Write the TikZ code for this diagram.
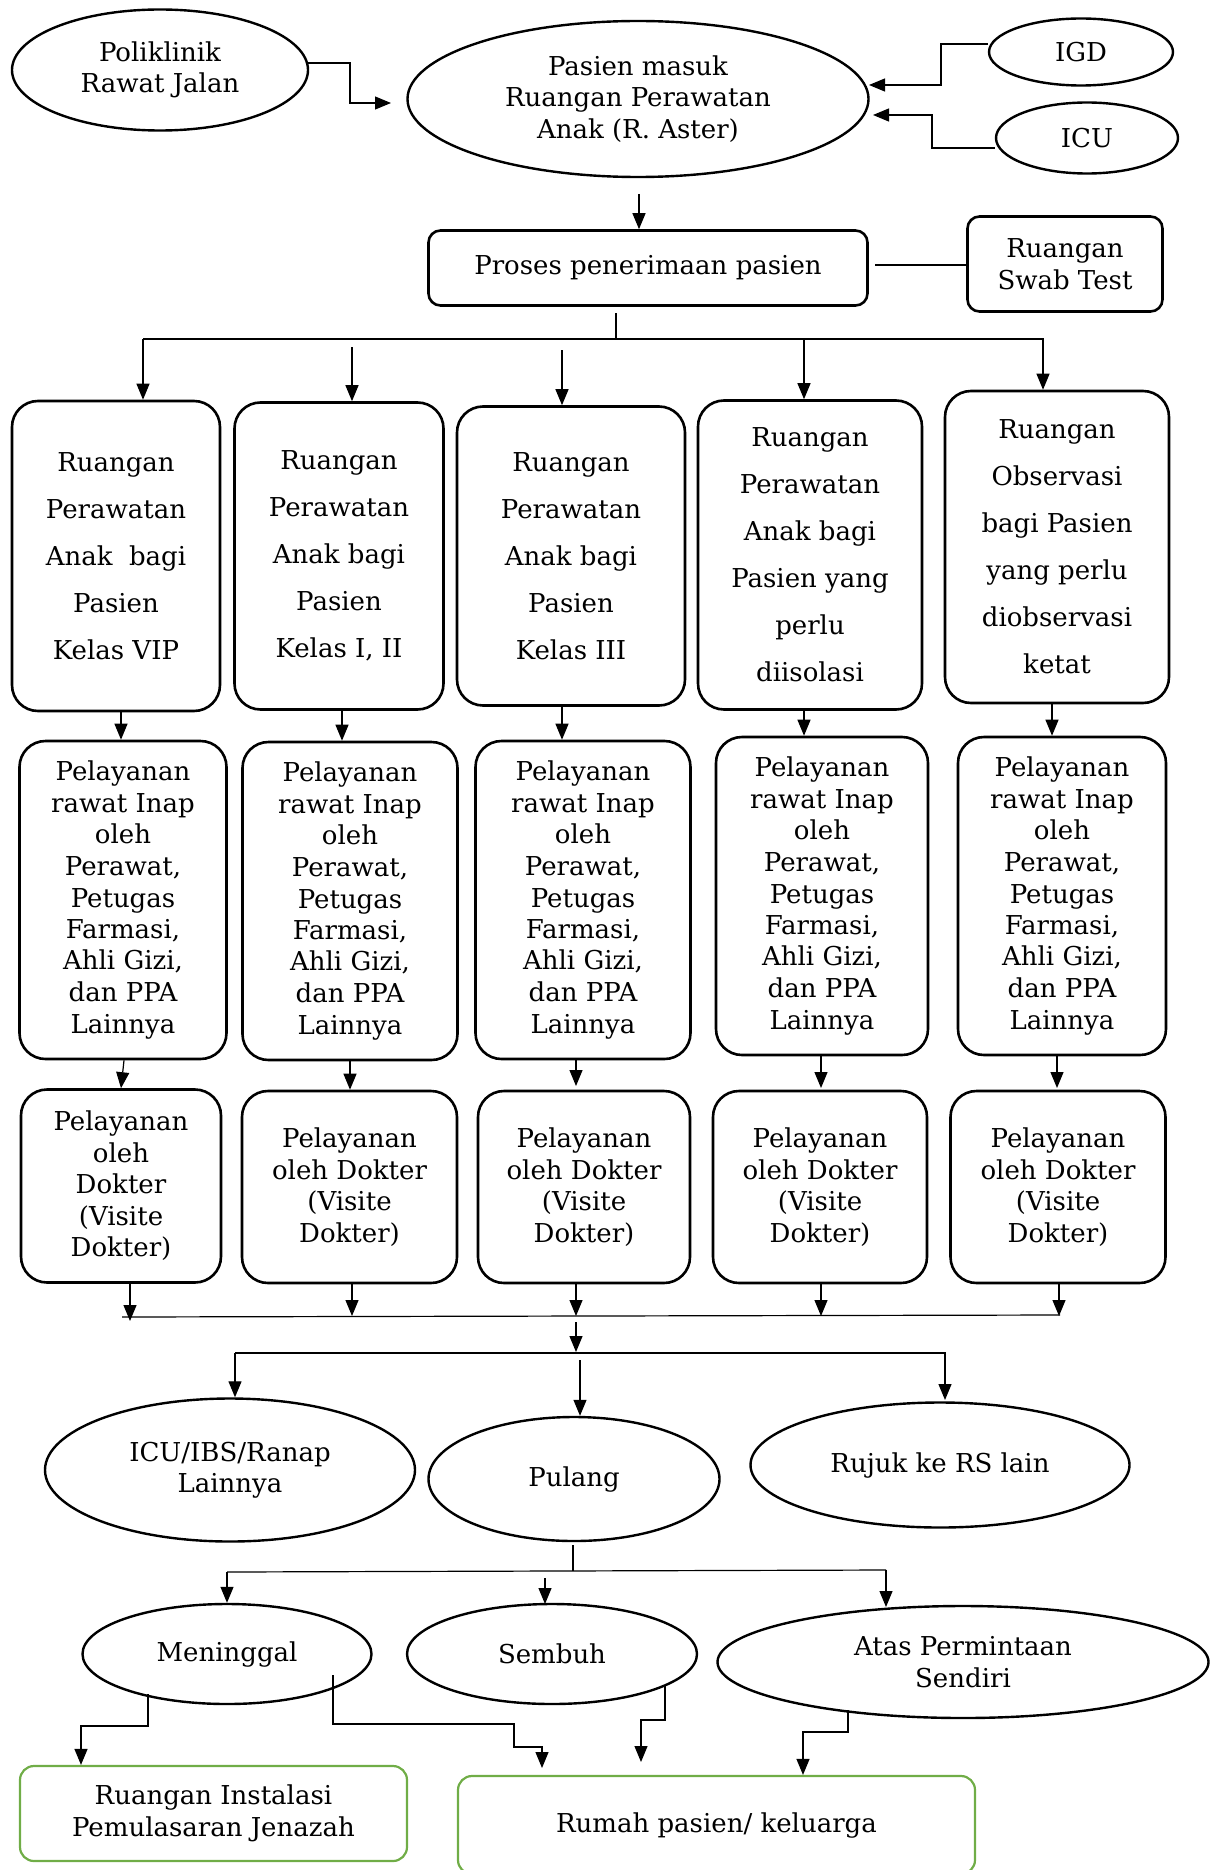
\documentclass[tikz,border=0pt]{standalone}
\usepackage{fontspec}
\setmainfont{DejaVu Serif}
\usetikzlibrary{shapes.geometric,arrows.meta}
\definecolor{wgreen}{HTML}{70AD47}
\begin{document}
\begin{tikzpicture}[x=1pt,y=-1pt,
  every node/.style={font=\fontsize{26}{31.5}\selectfont},
  ell/.style={draw, ellipse, line width=2.4pt, inner sep=0pt, align=center},
  rbox/.style={draw, rounded corners=26pt, line width=2.6pt, inner sep=0pt, align=center},
  sbox/.style={draw, rounded corners=12pt, line width=2.6pt, inner sep=0pt, align=center},
  gbox/.style={draw=wgreen, rounded corners=14pt, line width=2.2pt, inner sep=0pt, align=center},
  wide/.style={font=\fontsize{26}{47}\selectfont},
  arr/.style={-{Triangle[length=16pt,width=13pt]}, line width=1.2pt},
  ln/.style={line width=1.2pt}]
\useasboundingbox (0,0) rectangle (1217,1870);
\clip (0,0) rectangle (1217,1870);

% top
\node[ell, minimum width=296, minimum height=121] (poli) at (160,70) {Poliklinik\\Rawat Jalan};
\node[ell, minimum width=461, minimum height=156] (masuk) at (638,99) {Pasien masuk\\Ruangan Perawatan\\Anak (R. Aster)};
\node[ell, minimum width=184, minimum height=67] (igd) at (1081,52) {IGD};
\node[ell, minimum width=182, minimum height=71] (icu) at (1087,138) {ICU};
\node[sbox, minimum width=439, minimum height=75] (proses) at (648,268) {Proses penerimaan pasien};
\node[sbox, minimum width=195, minimum height=95] (swab) at (1065,264) {Ruangan\\Swab Test};

% row 1
\node[rbox, wide, minimum width=208, minimum height=310] (b1) at (116,556) {Ruangan\\Perawatan\\Anak \ bagi\\Pasien\\Kelas VIP};
\node[rbox, wide, minimum width=209, minimum height=307] (b2) at (339,556) {Ruangan\\Perawatan\\Anak bagi\\Pasien\\Kelas I, II};
\node[rbox, wide, minimum width=228, minimum height=299] (b3) at (571,556) {Ruangan\\Perawatan\\Anak bagi\\Pasien\\Kelas III};
\node[rbox, wide, minimum width=224, minimum height=309] (b4) at (810,555) {Ruangan\\Perawatan\\Anak bagi\\Pasien yang\\perlu\\diisolasi};
\node[rbox, wide, minimum width=224, minimum height=312] (b5) at (1057,547) {Ruangan\\Observasi\\bagi Pasien\\yang perlu\\diobservasi\\ketat};

% row 2
\foreach \n/\x/\y/\w in {p1/123/900/207, p2/350/901/215, p3/583/900/215, p4/822/896/212, p5/1062/896/208}{
  \node[rbox, minimum width=\w, minimum height=318] (\n) at (\x,\y) {Pelayanan\\rawat Inap\\oleh\\Perawat,\\Petugas\\Farmasi,\\Ahli Gizi,\\dan PPA\\Lainnya};
}

% row 3
\node[rbox, minimum width=200, minimum height=193] (d1) at (121,1186) {Pelayanan\\oleh\\Dokter\\(Visite\\Dokter)};
\foreach \n/\x/\w in {d2/349.5/215, d3/584/212, d4/820/214, d5/1058/215}{
  \node[rbox, minimum width=\w, minimum height=192] (\n) at (\x,1187) {Pelayanan\\oleh Dokter\\(Visite\\Dokter)};
}

% outcomes
\node[ell, minimum width=370, minimum height=143] (icuibs) at (230,1470) {ICU/IBS/Ranap\\Lainnya};
\node[ell, minimum width=291, minimum height=124] (pulang) at (574,1479) {Pulang};
\node[ell, minimum width=379, minimum height=125] (rujuk) at (940,1465) {Rujuk ke RS lain};
\node[ell, minimum width=289, minimum height=100] (mati) at (227,1654) {Meninggal};
\node[ell, minimum width=290, minimum height=100] (sembuh) at (552,1654) {Sembuh};
\node[ell, minimum width=491, minimum height=112] (aps) at (963,1662) {Atas Permintaan\\Sendiri};
\node[gbox, minimum width=387, minimum height=95] (jenazah) at (213.5,1813.5) {Ruangan Instalasi\\Pemulasaran Jenazah};
\node[gbox, minimum width=517, minimum height=98] (rumah) at (716.5,1825) {Rumah pasien/ keluarga};

% connectors top
\draw[arr] (308,63) -- (350,63) -- (350,103) -- (391,103);
\draw[arr] (igd.west |- 0,44) -- (941,44) -- (941,85) -- (869,85);
\draw[arr] (icu.west |- 0,148) -- (932,148) -- (932,115) -- (873,115);
\draw[arr] (639,194) -- (proses.north -| 639,0);
\draw[ln] (875,265) -- (swab.west |- 0,265);
\coordinate (t1) at (616,313);
\draw[ln] (t1) -- (616,339);
\draw[ln] (143,339) -- (1044,339);
\draw[arr] (143,339) -- (b1.north -| 143,0);
\draw[arr] (352,347) -- (b2.north -| 352,0);
\draw[arr] (562,350) -- (b3.north -| 562,0);
\draw[arr] (804,339) -- (b4.north -| 804,0);
\draw[arr] (1043,339) -- (b5.north -| 1043,0);

% row1 -> row2
\draw[arr] (b1.south -| 121,0) -- (p1.north -| 121,0);
\draw[arr] (b2.south -| 342,0) -- (p2.north -| 342,0);
\draw[arr] (b3.south -| 562,0) -- (p3.north -| 562,0);
\draw[arr] (b4.south -| 804,0) -- (p4.north -| 804,0);
\draw[arr] (b5.south -| 1052,0) -- (p5.north -| 1052,0);

% row2 -> row3
\draw[arr] (p1.south -| 124,0) -- (d1.north -| 121,0);
\draw[arr] (p2.south -| 350,0) -- (d2.north -| 350,0);
\draw[arr] (p3.south -| 576,0) -- (576,1086);
\draw[arr] (p4.south -| 821,0) -- (821,1088);
\draw[arr] (p5.south -| 1057,0) -- (1057,1088);

% row3 -> bar
\draw[arr] (d1.south -| 130,0) -- (130,1321);
\draw[arr] (d2.south -| 352,0) -- (352,1316);
\draw[arr] (d3.south -| 576,0) -- (576,1316);
\draw[arr] (d4.south -| 821,0) -- (821,1316);
\draw[arr] (d5.south -| 1059,0) -- (1059,1316);
\draw[ln] (122,1317) -- (1060,1315);
\draw[arr] (576,1322) -- (576,1352);
\draw[ln] (235,1353) -- (946,1353);
\draw[arr] (235,1353) -- (icuibs.north -| 235,0);
\draw[arr] (580,1360) -- (pulang.north -| 580,0);
\draw[arr] (945,1353) -- (945,1400);

% pulang -> outcomes
\draw[ln] (573,1545) -- (573,1571);
\draw[ln] (227,1572) -- (886,1570);
\draw[arr] (227,1572) -- (mati.north);
\draw[arr] (545,1578) -- (545,1604);
\draw[arr] (886,1570) -- (886,1607);

% to final destinations
\draw[arr] (148,1694) -- (148,1726) -- (81,1726) -- (jenazah.north -| 81,0);
\draw[arr] (333,1675) -- (333,1724) -- (514,1724) -- (514,1747) -- (542,1747) -- (542,1768);
\draw[arr] (665,1685) -- (665,1720) -- (641,1720) -- (641,1762);
\draw[arr] (848,1710) -- (848,1732) -- (803,1732) -- (rumah.north -| 803,0);
\end{tikzpicture}
\end{document}
